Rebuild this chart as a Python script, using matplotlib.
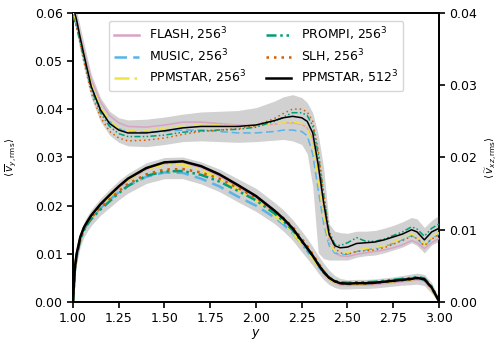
import matplotlib
matplotlib.use("Agg")
import matplotlib.pyplot as plt

plt.rcParams["font.family"] = "DejaVu Sans"
plt.rcParams["font.size"] = 9

# radial coordinate grid shared by all profiles
y = [1.00, 1.01, 1.02, 1.04, 1.06, 1.08, 1.10, 1.15, 1.20, 1.25, 1.30, 1.40, 1.50,
     1.60, 1.70, 1.80, 1.90, 2.00, 2.10, 2.15, 2.20, 2.25, 2.28, 2.31, 2.34, 2.37,
     2.40, 2.43, 2.46, 2.50, 2.55, 2.60, 2.65, 2.70, 2.75, 2.80, 2.85, 2.88, 2.92,
     2.96, 3.00]

# ---- radial rms velocity (left axis) ----
vy_flash = [0.0, 0.0068, 0.0098, 0.0133, 0.0153, 0.0166, 0.0178, 0.0200, 0.0219, 0.0237, 0.0253,
            0.0276, 0.0288, 0.0290, 0.0280, 0.0262, 0.0239, 0.0216, 0.0186, 0.0169, 0.0149,
            0.0123, 0.0108, 0.0092, 0.0075, 0.0059, 0.0047, 0.0040, 0.0036, 0.0035, 0.0036,
            0.0036, 0.0037, 0.0039, 0.0041, 0.0043, 0.0045, 0.0047, 0.0044, 0.0028, 0.0002]
vy_music = [0.0, 0.0066, 0.0096, 0.0130, 0.0150, 0.0163, 0.0174, 0.0195, 0.0212, 0.0228, 0.0241,
            0.0260, 0.0269, 0.0268, 0.0256, 0.0240, 0.0219, 0.0200, 0.0176, 0.0161, 0.0143,
            0.0120, 0.0106, 0.0091, 0.0075, 0.0060, 0.0049, 0.0042, 0.0039, 0.0038, 0.0039,
            0.0039, 0.0040, 0.0042, 0.0044, 0.0046, 0.0048, 0.0049, 0.0046, 0.0029, 0.0002]
vy_ppm256 = [0.0, 0.0069, 0.0099, 0.0133, 0.0153, 0.0167, 0.0178, 0.0201, 0.0220, 0.0238, 0.0254,
             0.0276, 0.0286, 0.0285, 0.0274, 0.0256, 0.0234, 0.0211, 0.0181, 0.0164, 0.0145,
             0.0120, 0.0106, 0.0091, 0.0074, 0.0059, 0.0048, 0.0041, 0.0038, 0.0037, 0.0038,
             0.0038, 0.0039, 0.0041, 0.0043, 0.0045, 0.0047, 0.0049, 0.0046, 0.0029, 0.0002]
vy_prompi = [0.0, 0.0066, 0.0096, 0.0130, 0.0149, 0.0162, 0.0172, 0.0192, 0.0209, 0.0226, 0.0241,
             0.0262, 0.0271, 0.0272, 0.0264, 0.0250, 0.0231, 0.0211, 0.0184, 0.0168, 0.0149,
             0.0125, 0.0111, 0.0096, 0.0079, 0.0063, 0.0051, 0.0044, 0.0041, 0.0040, 0.0041,
             0.0041, 0.0042, 0.0044, 0.0046, 0.0048, 0.0050, 0.0052, 0.0049, 0.0032, 0.0003]
vy_slh = [0.0, 0.0067, 0.0097, 0.0131, 0.0151, 0.0164, 0.0175, 0.0196, 0.0213, 0.0230, 0.0245,
          0.0265, 0.0275, 0.0276, 0.0269, 0.0256, 0.0237, 0.0217, 0.0190, 0.0174, 0.0156,
          0.0131, 0.0116, 0.0099, 0.0081, 0.0064, 0.0051, 0.0043, 0.0039, 0.0037, 0.0038,
          0.0038, 0.0039, 0.0041, 0.0043, 0.0045, 0.0047, 0.0049, 0.0046, 0.0029, 0.0002]
vy_ppm512 = [0.0, 0.0070, 0.0100, 0.0135, 0.0155, 0.0168, 0.0180, 0.0203, 0.0222, 0.0240, 0.0256,
             0.0278, 0.0290, 0.0292, 0.0282, 0.0265, 0.0243, 0.0220, 0.0190, 0.0173, 0.0153,
             0.0127, 0.0112, 0.0096, 0.0078, 0.0062, 0.0050, 0.0043, 0.0039, 0.0038, 0.0039,
             0.0039, 0.0040, 0.0042, 0.0044, 0.0046, 0.0048, 0.0050, 0.0047, 0.0030, 0.0002]
vy_band_hi = [0.0010, 0.0085, 0.0113, 0.0146, 0.0166, 0.0180, 0.0192, 0.0215, 0.0234, 0.0252, 0.0267,
              0.0289, 0.0300, 0.0301, 0.0291, 0.0276, 0.0256, 0.0236, 0.0207, 0.0191, 0.0171,
              0.0147, 0.0132, 0.0115, 0.0097, 0.0080, 0.0066, 0.0055, 0.0049, 0.0046, 0.0047,
              0.0047, 0.0048, 0.0050, 0.0052, 0.0055, 0.0058, 0.0060, 0.0057, 0.0040, 0.0008]
vy_band_lo = [0.0, 0.0050, 0.0080, 0.0115, 0.0135, 0.0148, 0.0159, 0.0180, 0.0196, 0.0212, 0.0226,
              0.0246, 0.0256, 0.0256, 0.0245, 0.0229, 0.0208, 0.0188, 0.0163, 0.0147, 0.0128,
              0.0104, 0.0090, 0.0076, 0.0060, 0.0046, 0.0036, 0.0030, 0.0027, 0.0027, 0.0028,
              0.0028, 0.0029, 0.0031, 0.0033, 0.0035, 0.0036, 0.0037, 0.0034, 0.0018, 0.0000]

# ---- horizontal rms velocity (right axis) ----
vxz_flash = [0.0405, 0.0398, 0.0390, 0.0368, 0.0348, 0.0328, 0.0308, 0.0277, 0.0258, 0.0248, 0.0243,
             0.0242, 0.0245, 0.0249, 0.0249, 0.0247, 0.0245, 0.0244, 0.0246, 0.0248, 0.0248,
             0.0246, 0.0241, 0.0226, 0.0185, 0.0130, 0.0085, 0.0068, 0.0064, 0.0063, 0.0066,
             0.0068, 0.0070, 0.0072, 0.0075, 0.0079, 0.0085, 0.0082, 0.0074, 0.0082, 0.0088]
vxz_music = [0.0400, 0.0392, 0.0383, 0.0360, 0.0338, 0.0318, 0.0298, 0.0268, 0.0250, 0.0240, 0.0236,
             0.0235, 0.0236, 0.0238, 0.0238, 0.0236, 0.0234, 0.0234, 0.0236, 0.0238, 0.0238,
             0.0236, 0.0230, 0.0205, 0.0155, 0.0108, 0.0078, 0.0068, 0.0066, 0.0066, 0.0070,
             0.0072, 0.0074, 0.0077, 0.0081, 0.0086, 0.0092, 0.0088, 0.0077, 0.0088, 0.0094]
vxz_ppm256 = [0.0400, 0.0393, 0.0385, 0.0364, 0.0343, 0.0322, 0.0302, 0.0270, 0.0251, 0.0241, 0.0237,
              0.0238, 0.0241, 0.0244, 0.0245, 0.0245, 0.0244, 0.0244, 0.0246, 0.0248, 0.0249,
              0.0247, 0.0241, 0.0218, 0.0170, 0.0118, 0.0082, 0.0070, 0.0067, 0.0068, 0.0072,
              0.0074, 0.0075, 0.0078, 0.0083, 0.0088, 0.0094, 0.0090, 0.0079, 0.0090, 0.0096]
vxz_prompi = [0.0395, 0.0388, 0.0380, 0.0358, 0.0336, 0.0315, 0.0294, 0.0262, 0.0243, 0.0233, 0.0229,
              0.0229, 0.0231, 0.0235, 0.0237, 0.0238, 0.0239, 0.0242, 0.0250, 0.0256, 0.0262,
              0.0262, 0.0258, 0.0244, 0.0205, 0.0148, 0.0098, 0.0080, 0.0078, 0.0082, 0.0089,
              0.0084, 0.0084, 0.0087, 0.0092, 0.0097, 0.0104, 0.0101, 0.0091, 0.0102, 0.0108]
vxz_slh = [0.0398, 0.0390, 0.0381, 0.0356, 0.0332, 0.0310, 0.0289, 0.0256, 0.0236, 0.0227, 0.0223,
           0.0224, 0.0227, 0.0232, 0.0236, 0.0238, 0.0240, 0.0244, 0.0254, 0.0261, 0.0267,
           0.0267, 0.0263, 0.0250, 0.0210, 0.0150, 0.0096, 0.0075, 0.0068, 0.0066, 0.0070,
           0.0071, 0.0072, 0.0075, 0.0080, 0.0085, 0.0091, 0.0088, 0.0078, 0.0087, 0.0093]
vxz_ppm512 = [0.0410, 0.0400, 0.0390, 0.0365, 0.0342, 0.0320, 0.0298, 0.0266, 0.0247, 0.0238, 0.0234,
              0.0234, 0.0237, 0.0241, 0.0243, 0.0243, 0.0243, 0.0245, 0.0251, 0.0255, 0.0257,
              0.0255, 0.0250, 0.0234, 0.0190, 0.0137, 0.0093, 0.0078, 0.0075, 0.0076, 0.0081,
              0.0082, 0.0083, 0.0086, 0.0090, 0.0094, 0.0100, 0.0097, 0.0086, 0.0097, 0.0102]
vxz_band_hi = [0.0420, 0.0412, 0.0403, 0.0380, 0.0358, 0.0336, 0.0315, 0.0283, 0.0264, 0.0255, 0.0252,
               0.0253, 0.0256, 0.0260, 0.0263, 0.0264, 0.0265, 0.0269, 0.0278, 0.0284, 0.0287,
               0.0283, 0.0276, 0.0262, 0.0232, 0.0185, 0.0108, 0.0098, 0.0096, 0.0095, 0.0098,
               0.0098, 0.0099, 0.0102, 0.0106, 0.0111, 0.0117, 0.0115, 0.0103, 0.0113, 0.0120]
vxz_band_lo = [0.0395, 0.0385, 0.0373, 0.0348, 0.0325, 0.0303, 0.0282, 0.0250, 0.0231, 0.0221, 0.0216,
               0.0215, 0.0218, 0.0222, 0.0223, 0.0222, 0.0221, 0.0222, 0.0224, 0.0225, 0.0223,
               0.0218, 0.0205, 0.0160, 0.0068, 0.0060, 0.0058, 0.0058, 0.0058, 0.0058, 0.0062,
               0.0064, 0.0065, 0.0068, 0.0072, 0.0076, 0.0082, 0.0078, 0.0068, 0.0079, 0.0084]

labels = ["FLASH, $256^3$", "MUSIC, $256^3$", "PPMSTAR, $256^3$",
          "PROMPI, $256^3$", "SLH, $256^3$", "PPMSTAR, $512^3$"]
colors = ["#d9a3c6", "#56B4E9", "#F0E442", "#009E73", "#D55E00", "black"]
styles = ["-", (0, (5, 2.5)), (0, (6, 2, 1, 2)), (0, (4, 1.5, 1, 1.5, 1, 1.5)),
          (0, (1, 2)), "-"]

vy_all = [vy_flash, vy_music, vy_ppm256, vy_prompi, vy_slh, vy_ppm512]
vxz_all = [vxz_flash, vxz_music, vxz_ppm256, vxz_prompi, vxz_slh, vxz_ppm512]

fig = plt.figure(figsize=(5.02, 3.46), dpi=100)
ax = fig.add_axes([0.1454, 0.1272, 0.7291, 0.8352])
ax2 = ax.twinx()

ax.fill_between(y, vy_band_lo, vy_band_hi, color="0.82", lw=0, zorder=1)
ax2.fill_between(y, vxz_band_lo, vxz_band_hi, color="0.82", lw=0, zorder=1)

for vals, lab, c, ls in zip(vy_all, labels, colors, styles):
    ax.plot(y, vals, color=c, ls=ls, lw=1.8, label=lab, zorder=3)
for vals, c, ls in zip(vxz_all, colors, styles):
    ax2.plot(y, vals, color=c, ls=ls, lw=1.1, zorder=3)

ax.set_xlim(1.0, 3.0)
ax.set_ylim(0.0, 0.06)
ax2.set_ylim(0.0, 0.04)
ax.set_xticks([1.0, 1.25, 1.5, 1.75, 2.0, 2.25, 2.5, 2.75, 3.0])
ax.set_yticks([0.0, 0.01, 0.02, 0.03, 0.04, 0.05, 0.06])
ax2.set_yticks([0.0, 0.01, 0.02, 0.03, 0.04])

ax.set_xlabel("$y$", labelpad=1)
ax.set_ylabel(r"$\langle\, \overline{v}_{y,\mathrm{rms}} \rangle$", fontsize=7.5, labelpad=12)
ax2.set_ylabel(r"$\langle\, \widetilde{v}_{xz,\mathrm{rms}} \rangle$", fontsize=7.5,
               rotation=90, labelpad=4)

for a in (ax, ax2):
    for s in a.spines.values():
        s.set_linewidth(1.3)
    a.tick_params(width=1.2, length=4)

ax.legend(ncol=2, loc="upper center", bbox_to_anchor=(0.5, 0.995),
          fontsize=9, handlelength=2.0, columnspacing=1.6, labelspacing=0.3)

fig.savefig("out.png", dpi=100)
